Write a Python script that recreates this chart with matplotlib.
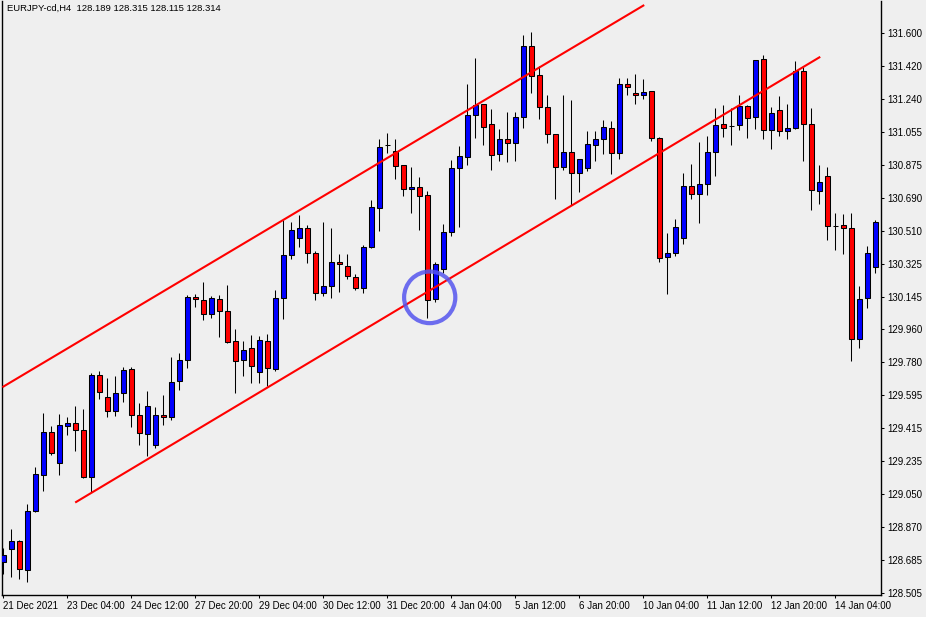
import numpy as np
import matplotlib
matplotlib.use("Agg")
import matplotlib.pyplot as plt
from matplotlib.patches import Ellipse

# EURJPY H4 candles
opens = [128.680, 128.748, 128.792, 128.632, 128.958, 129.156, 129.394, 129.223, 129.427, 129.445,
         129.405, 129.149, 129.710, 129.587, 129.510, 129.609, 129.742, 129.488, 129.383, 129.326,
         129.490, 129.477, 129.675, 129.791, 130.139, 130.123, 130.045, 130.128, 130.062, 129.896,
         129.791, 129.858, 129.725, 129.896, 129.742, 130.133, 130.371, 130.465, 130.520, 130.382,
         130.161, 130.200, 130.332, 130.310, 130.250, 130.189, 130.415, 130.631, 130.978, 130.947,
         130.870, 130.737, 130.748, 130.704, 130.128, 130.294, 130.498, 130.853, 130.914, 131.144,
         131.205, 131.094, 130.930, 131.015, 130.989, 131.133, 131.525, 131.365, 131.188, 131.039,
         130.859, 130.941, 130.825, 130.853, 130.978, 131.015, 131.072, 130.936, 131.315, 131.265,
         131.254, 131.276, 131.019, 130.360, 130.382, 130.465, 130.752, 130.708, 130.763, 130.941,
         131.094, 131.085, 131.089, 131.194, 131.133, 131.453, 131.061, 131.172, 131.056, 131.072,
         131.387, 131.094, 130.724, 130.809, 130.534, 130.537, 130.520, 129.909, 130.133, 130.306]
highs = [128.753, 128.860, 128.799, 128.998, 129.201, 129.499, 129.429, 129.493, 129.477, 129.537,
         129.522, 129.721, 129.732, 129.694, 129.705, 129.753, 129.753, 129.554, 129.620, 129.532,
         129.600, 129.810, 129.832, 130.150, 130.157, 130.224, 130.144, 130.150, 130.205, 129.962,
         129.896, 129.929, 129.924, 129.935, 130.178, 130.566, 130.553, 130.592, 130.537, 130.396,
         130.553, 130.520, 130.377, 130.377, 130.266, 130.426, 130.675, 131.013, 131.046, 131.013,
         130.870, 130.859, 130.803, 130.726, 130.332, 130.542, 130.897, 130.974, 131.317, 131.459,
         131.205, 131.177, 131.067, 131.161, 131.161, 131.586, 131.602, 131.414, 131.254, 131.039,
         131.254, 131.227, 130.903, 131.056, 131.056, 131.116, 131.111, 131.348, 131.348, 131.370,
         131.343, 131.276, 131.024, 130.493, 130.570, 130.824, 130.875, 130.997, 131.028, 131.183,
         131.199, 131.183, 131.254, 131.199, 131.448, 131.475, 131.188, 131.249, 131.205, 131.442,
         131.409, 131.183, 130.870, 130.859, 130.603, 130.597, 130.603, 130.200, 130.421, 130.564]
lows = [128.610, 128.597, 128.582, 128.566, 128.955, 129.071, 129.267, 129.160, 129.381, 129.292,
        129.143, 129.062, 129.578, 129.477, 129.482, 129.563, 129.421, 129.322, 129.265, 129.305,
        129.434, 129.462, 129.629, 129.751, 130.087, 130.012, 130.023, 129.919, 129.887, 129.609,
        129.705, 129.666, 129.666, 129.649, 129.731, 130.018, 130.349, 130.415, 130.327, 130.123,
        130.144, 130.133, 130.167, 130.239, 130.178, 130.161, 130.410, 130.504, 130.936, 130.792,
        130.698, 130.603, 130.509, 130.023, 130.112, 130.272, 130.476, 130.529, 130.867, 131.019,
        130.978, 130.840, 130.890, 130.884, 130.890, 131.072, 131.265, 131.122, 130.989, 130.682,
        130.840, 130.649, 130.721, 130.835, 130.890, 130.930, 130.818, 130.903, 131.254, 131.205,
        131.232, 131.002, 130.332, 130.156, 130.366, 130.432, 130.682, 130.548, 130.704, 130.809,
        131.024, 130.978, 131.061, 131.019, 131.067, 131.013, 130.958, 131.028, 131.013, 131.067,
        130.890, 130.619, 130.653, 130.454, 130.399, 130.378, 129.786, 129.858, 130.078, 130.272]
closes = [128.715, 128.792, 128.638, 128.958, 129.162, 129.394, 129.278, 129.432, 129.445, 129.405,
          129.149, 129.710, 129.615, 129.510, 129.609, 129.736, 129.488, 129.388, 129.537, 129.488,
          129.477, 129.672, 129.791, 130.139, 130.128, 130.045, 130.133, 130.062, 129.892, 129.786,
          129.847, 129.758, 129.902, 129.747, 130.133, 130.371, 130.509, 130.520, 130.382, 130.161,
          130.200, 130.332, 130.321, 130.255, 130.189, 130.415, 130.636, 130.967, 130.978, 130.864,
          130.737, 130.748, 130.698, 130.123, 130.321, 130.498, 130.853, 130.919, 131.144, 131.199,
          131.078, 130.925, 131.015, 130.991, 131.133, 131.525, 131.359, 131.188, 131.039, 130.859,
          130.941, 130.825, 130.903, 130.984, 131.015, 131.078, 130.936, 131.315, 131.299, 131.254,
          131.271, 131.019, 130.354, 130.382, 130.526, 130.752, 130.708, 130.763, 130.941, 131.089,
          131.072, 131.085, 131.194, 131.127, 131.448, 131.061, 131.155, 131.056, 131.072, 131.387,
          131.094, 130.730, 130.774, 130.531, 130.534, 130.520, 129.909, 130.128, 130.382, 130.553]

# trend channel anchors (bar index, price)
upper_line = ([0, 80.0], [129.646, 131.750])
lower_line = ([9.1, 102.0], [129.009, 131.464])
# the marked touch of the lower line
circle_bar = 53.3
circle_price = 130.139

price_labels = ["131.600", "131.420", "131.240", "131.055", "130.875", "130.690", "130.510",
                "130.325", "130.145", "129.960", "129.780", "129.595", "129.415", "129.235",
                "129.050", "128.870", "128.685", "128.505"]
date_labels = ["21 Dec 2021", "23 Dec 04:00", "24 Dec 12:00", "27 Dec 20:00", "29 Dec 04:00",
               "30 Dec 12:00", "31 Dec 20:00", "4 Jan 04:00", "5 Jan 12:00", "6 Jan 20:00",
               "10 Jan 04:00", "11 Jan 12:00", "12 Jan 20:00", "14 Jan 04:00"]
header = "EURJPY-cd,H4  128.189 128.315 128.115 128.314"

bg = "#efefef"
plt.rcParams['font.family'] = ['Liberation Sans', 'DejaVu Sans']

fig = plt.figure(figsize=(9.26, 6.17), dpi=100, facecolor=bg)
ax = fig.add_axes([2 / 926, 22 / 617, 878.7 / 926, 594.5 / 617], facecolor=bg)

o = np.array(opens)
c = np.array(closes)
x = np.arange(len(o))
colors = np.where(c > o, "#0000ff", np.where(c < o, "#ff0000", "#000000"))

# wicks then bodies
ax.vlines(x, lows, highs, color="black", lw=0.75, zorder=2)
ax.bar(x, c - o, bottom=o, width=0.6, color=colors, edgecolor="black", lw=0.75, zorder=3)

ax.plot(upper_line[0], upper_line[1], color="#ff0000", lw=1.5, zorder=4)
ax.plot(lower_line[0], lower_line[1], color="#ff0000", lw=1.5, zorder=4)

ax.add_patch(Ellipse((circle_bar, circle_price), 6.4, 0.285, fill=False,
                     edgecolor="#5555ee", lw=3, alpha=0.85, zorder=5))

ax.set_xlim(-0.16, 109.67)
ax.set_ylim(128.4955, 131.778)

ax.yaxis.tick_right()
ax.set_yticks(np.linspace(131.600, 128.505, len(price_labels)))
ax.set_yticklabels(price_labels)
ax.set_xticks(np.arange(0, 8 * len(date_labels), 8))
ax.set_xticklabels(date_labels, ha="left")
ax.tick_params(axis="y", length=2.5, width=0.75, pad=2, labelsize=7, colors="black")
ax.tick_params(axis="x", length=2.5, width=0.75, pad=2, labelsize=7, colors="black")

ax.spines["top"].set_visible(False)
for s in ["left", "right", "bottom"]:
    ax.spines[s].set_linewidth(1)

ax.text(0.006, 0.994, header, transform=ax.transAxes, fontsize=6.8, va="top", ha="left")

fig.savefig("out.png", dpi=100, facecolor=bg)
